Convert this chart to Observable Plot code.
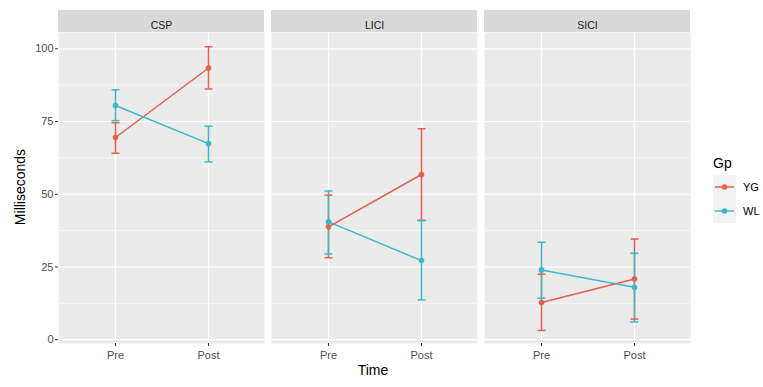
<!DOCTYPE html>
<html>
<head>
<meta charset="utf-8">
<script src="https://cdn.jsdelivr.net/npm/d3@7"></script>
<script src="https://cdn.jsdelivr.net/npm/@observablehq/plot@0.6"></script>
<style>
  html, body { margin: 0; padding: 0; background: #fff; }
  #wrap { position: relative; width: 763px; height: 387px; font-family: "Liberation Sans", Arial, sans-serif; }
  #wrap svg { display: block; }
  .ylab { position: absolute; left: 20px; top: 187px; transform: translate(-50%, -50%) rotate(-90deg); font-size: 14px; color: #000; white-space: nowrap; }
  .xlab { position: absolute; left: 373px; top: 370px; transform: translate(-50%, -50%); font-size: 14px; color: #000; }
  #legend { position: absolute; left: 712px; top: 151px; }
</style>
</head>
<body>
<div id="wrap">
  <div id="chart"></div>
  <div class="ylab">Milliseconds</div>
  <div class="xlab">Time</div>
  <div id="legend"></div>
</div>
<script>
// ---- Data ----
const tests = ["CSP", "LICI", "SICI"];
const times = ["Pre", "Post"];
const groups = ["YG", "WL"];
const groupColors = ["#E5604D", "#3DB8CB"];
const yTicks = [0, 25, 50, 75, 100];
const yMinorTicks = [12.5, 37.5, 62.5, 87.5];

// order: CSP Pre, CSP Post, LICI Pre, LICI Post, SICI Pre, SICI Post
const YG_mean = [69.5, 93.4, 38.8, 56.8, 12.8, 20.9];
const YG_lo   = [64.1, 86.2, 28.2, 41.1, 3.2, 7.1];
const YG_hi   = [74.6, 100.7, 49.7, 72.5, 22.5, 34.6];
const WL_mean = [80.5, 67.4, 40.5, 27.2, 24.0, 18.0];
const WL_lo   = [75.3, 61.1, 29.5, 13.7, 14.3, 6.1];
const WL_hi   = [85.9, 73.4, 51.1, 40.9, 33.5, 29.7];

const series = {YG: [YG_mean, YG_lo, YG_hi], WL: [WL_mean, WL_lo, WL_hi]};
const rows = [];
for (const g of groups) {
  const [m, lo, hi] = series[g];
  tests.forEach((t, i) => times.forEach((tm, j) => {
    const k = i * 2 + j;
    rows.push({test: t, time: tm, gp: g, mean: m[k], lo: lo[k], hi: hi[k]});
  }));
}

const yDomain = [-1.3, 105.6];
const stripTop = 113.2; // strip band above panel, in y units

const capSymbol = {
  draw(context, size) {
    const w = Math.sqrt(size / Math.PI);
    context.moveTo(-w, 0);
    context.lineTo(w, 0);
  }
};

const chart = Plot.plot({
  width: 763,
  height: 387,
  marginLeft: 57,
  marginRight: 73,
  marginTop: 32,
  marginBottom: 44,
  style: {fontFamily: "Liberation Sans, Arial, sans-serif", background: "#fff"},
  fx: {domain: tests, paddingInner: 0.035, paddingOuter: 0, axis: null, label: null},
  x: {type: "point", domain: times, padding: 0.6, label: null},
  y: {domain: yDomain, label: null},
  color: {domain: groups, range: groupColors},
  marks: [
    Plot.frame({fill: "#EBEBEB", stroke: null}),
    Plot.rect(tests, {fx: d => d, y1: yDomain[1], y2: stripTop, fill: "#D9D9D9"}),
    Plot.text(tests, {fx: d => d, text: d => d, frameAnchor: "top", dy: -11, fontSize: 10.5, fill: "#1A1A1A"}),
    Plot.gridY(yMinorTicks, {stroke: "#fff", strokeOpacity: 1, strokeWidth: 0.6}),
    Plot.gridY(yTicks, {stroke: "#fff", strokeOpacity: 1, strokeWidth: 1.2}),
    Plot.gridX(times, {stroke: "#fff", strokeOpacity: 1, strokeWidth: 1.2}),
    Plot.axisY(yTicks, {tickSize: 3, tickPadding: 2, fontSize: 11, color: "#4D4D4D", stroke: "#333", label: null}),
    Plot.axisX({tickSize: 3, tickPadding: 5, fontSize: 11, color: "#4D4D4D", stroke: "#333", label: null}),
    Plot.line(rows, {fx: "test", x: "time", y: "mean", z: "gp", stroke: "gp", strokeWidth: 1.5}),
    Plot.ruleX(rows, {fx: "test", x: "time", y1: "lo", y2: "hi", stroke: "gp", strokeWidth: 1.5}),
    Plot.dot(rows, {fx: "test", x: "time", y: "lo", stroke: "gp", symbol: capSymbol, r: 4, strokeWidth: 1.5}),
    Plot.dot(rows, {fx: "test", x: "time", y: "hi", stroke: "gp", symbol: capSymbol, r: 4, strokeWidth: 1.5}),
    Plot.dot(rows, {fx: "test", x: "time", y: "mean", fill: "gp", r: 2.8})
  ]
});
document.getElementById("chart").appendChild(chart);

// Legend (ggplot-style, on the right)
const lg = d3.select("#legend").append("svg").attr("width", 51).attr("height", 74)
  .style("font-family", "Liberation Sans, Arial, sans-serif");
lg.append("text").attr("x", 1).attr("y", 17).attr("font-size", 14).attr("fill", "#000").text("Gp");
groups.forEach((g, i) => {
  const cy = 36 + i * 24;
  lg.append("rect").attr("x", 1).attr("y", cy - 12).attr("width", 23).attr("height", 24).attr("fill", "#F2F2F2");
  lg.append("line").attr("x1", 3).attr("x2", 22).attr("y1", cy).attr("y2", cy)
    .attr("stroke", groupColors[i]).attr("stroke-width", 1.5);
  lg.append("circle").attr("cx", 12.5).attr("cy", cy).attr("r", 2.8).attr("fill", groupColors[i]);
  lg.append("text").attr("x", 31).attr("y", cy + 4).attr("font-size", 11).attr("fill", "#000").text(g);
});
</script>
</body>
</html>
